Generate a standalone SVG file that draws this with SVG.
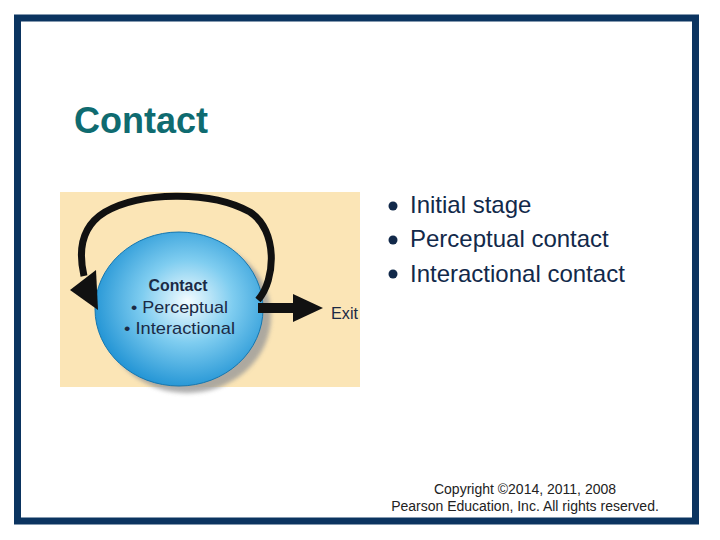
<svg xmlns="http://www.w3.org/2000/svg" width="720" height="540" viewBox="0 0 720 540">
<defs>
<radialGradient id="ball" cx="0.55" cy="0.45" r="0.6">
<stop offset="0" stop-color="#f4fcff"/>
<stop offset="0.45" stop-color="#7fcdf0"/>
<stop offset="1" stop-color="#1a8fd2"/>
</radialGradient>
<filter id="blur" x="-20%" y="-20%" width="140%" height="140%"><feGaussianBlur stdDeviation="2"/></filter>
</defs>
<style>
.bul{font-family:"Liberation Sans",Arial,sans-serif;font-size:24px;fill:#12294a}
.in{font-family:"Liberation Sans",Arial,sans-serif;font-size:17px;fill:#1b2a45}
.copy{font-family:"Liberation Sans",Arial,sans-serif;font-size:14px;fill:#222;text-anchor:middle}
</style>
<rect width="720" height="540" fill="#ffffff"/>
<rect id="frame" x="17.5" y="18" width="678" height="503" fill="#ffffff" stroke="#0b3460" stroke-width="7"/>
<text id="title" x="74" y="133" font-family="Liberation Sans,Arial,sans-serif" font-size="36" font-weight="bold" fill="#0f6b70">Contact</text>
<g id="bullets">
<circle cx="393" cy="206" r="4.5" fill="#12294a"/>
<circle cx="393" cy="240" r="4.5" fill="#12294a"/>
<circle cx="393" cy="274" r="4.5" fill="#12294a"/>
<text class="bul" x="410" y="213">Initial stage</text>
<text class="bul" x="410" y="247">Perceptual contact</text>
<text class="bul" x="410" y="282">Interactional contact</text>
</g>
<g id="figure">
<rect x="60" y="192" width="300" height="195" fill="#fbe5b6"/>
<ellipse cx="187" cy="316" rx="84" ry="77" fill="#9a9a9a" filter="url(#blur)" opacity="0.8"/>
<ellipse cx="179" cy="309" rx="84" ry="77" fill="url(#ball)" stroke="#1577b0" stroke-width="1"/>
</g>
<g id="connectors" fill="none" stroke="#111" stroke-width="7">
<path d="M258 300 C276 280 278 230 250 212 C210 190 140 192 105 212 C82 226 78 250 84 276"/>
<path d="M258 308 L296 308" stroke-width="10"/>
</g>
<g id="heads" fill="#111">
<polygon points="70,290 96,270 98,310"/>
<polygon points="293,294 323,308 293,322"/>
</g>
<g id="labels">
<text x="178" y="291" text-anchor="middle" font-family="Liberation Sans,Arial,sans-serif" font-size="17" font-weight="bold" fill="#1b2a45" textLength="59" lengthAdjust="spacingAndGlyphs">Contact</text>
<text class="in" x="131" y="313" textLength="97" lengthAdjust="spacingAndGlyphs">• Perceptual</text>
<text class="in" x="124" y="334" textLength="111" lengthAdjust="spacingAndGlyphs">• Interactional</text>
<text class="in" x="331" y="319" fill="#333" textLength="27" lengthAdjust="spacingAndGlyphs">Exit</text>
</g>
<g id="copyright">
<text class="copy" x="525" y="494">Copyright ©2014, 2011, 2008</text>
<text class="copy" x="525" y="511">Pearson Education, Inc. All rights reserved.</text>
</g>
</svg>
